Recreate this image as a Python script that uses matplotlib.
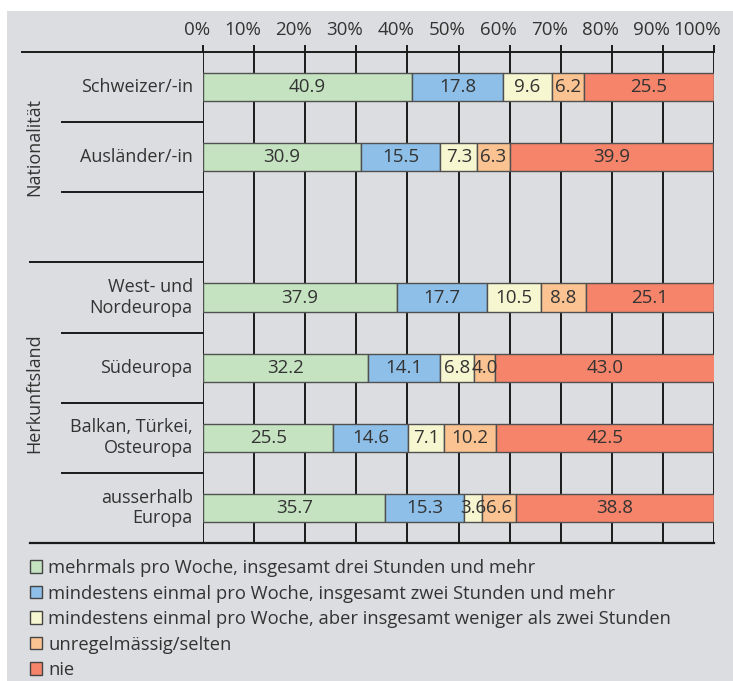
import matplotlib.pyplot as plt
import matplotlib.transforms as mtransforms
from matplotlib.patches import Patch, Rectangle

plt.rcParams["font.family"] = ["Open Sans", "DejaVu Sans"]
plt.rcParams["text.color"] = "#333333"

# Data
rows = ["Schweizer/-in", "Ausländer/-in", "", "West- und\nNordeuropa", "Südeuropa",
        "Balkan, Türkei,\nOsteuropa", "ausserhalb\nEuropa"]
mehrmals = [40.9, 30.9, None, 37.9, 32.2, 25.5, 35.7]
zwei_std = [17.8, 15.5, None, 17.7, 14.1, 14.6, 15.3]
weniger = [9.6, 7.3, None, 10.5, 6.8, 7.1, 3.6]
selten = [6.2, 6.3, None, 8.8, 4.0, 10.2, 6.6]
nie = [25.5, 39.9, None, 25.1, 43.0, 42.5, 38.8]
series = [mehrmals, zwei_std, weniger, selten, nie]
series_names = ["mehrmals pro Woche, insgesamt drei Stunden und mehr",
                "mindestens einmal pro Woche, insgesamt zwei Stunden und mehr",
                "mindestens einmal pro Woche, aber insgesamt weniger als zwei Stunden",
                "unregelmässig/selten",
                "nie"]
colors = ["#c5e3c1", "#8dbfe8", "#f6f6d0", "#fbc391", "#f5846a"]
groups = ["Nationalität", "Herkunftsland"]
ticks = list(range(0, 101, 10))

W, H = 733, 681
fig = plt.figure(figsize=(W / 100, H / 100), dpi=100)
fig.patches.append(Rectangle((7 / W, 0), 1, 1 - 11 / H, transform=fig.transFigure,
                             facecolor="#dcdde0", edgecolor="none", zorder=-5))

ax = fig.add_axes([203 / W, 1 - 543 / H, 511 / W, 491 / H])
ax.set_facecolor("none")
ax.set_xlim(0, 100)
ax.set_ylim(6.5, -0.5)

# vertical grid lines
for t in ticks:
    ax.axvline(t, color="#1a1a1a", lw=1.4, zorder=1)

# stacked bars
for i, name in enumerate(rows):
    if mehrmals[i] is None:
        continue
    left = 0
    for s, c in zip(series, colors):
        v = s[i]
        ax.barh(i, v, left=left, height=0.4, color=c, edgecolor="#505050", lw=1, zorder=2)
        ax.text(left + v / 2, i, f"{v:.1f}", ha="center", va="center", fontsize=13.5,
                color="#333333", zorder=3)
        left += v

# top axis: ticks, labels set right-aligned just past each tick
ax.set_xticks(ticks)
ax.tick_params(axis="x", top=True, labeltop=False, bottom=False, labelbottom=False,
               length=5, width=1.4, color="#1a1a1a")
ax.set_yticks([])
for sp in ax.spines.values():
    sp.set_visible(False)

xtr = ax.get_xaxis_transform()
off = mtransforms.ScaledTranslation(7 / 100, 17 / 100, fig.dpi_scale_trans)
for t in ticks:
    ax.text(t, 1, f"{t}%", transform=xtr + off, ha="right", va="baseline",
            fontsize=13.5, color="#333333", clip_on=False)

ytr = ax.get_yaxis_transform()
# horizontal lines: top, bottom, separators
ax.plot([-0.354, 1], [-0.5, -0.5], transform=ytr, color="#1a1a1a", lw=1.4, clip_on=False)
ax.plot([-0.339, 1], [6.5, 6.5], transform=ytr, color="#1a1a1a", lw=1.6, clip_on=False)
ax.plot([-0.339, 0], [2.5, 2.5], transform=ytr, color="#1a1a1a", lw=1.4, clip_on=False)
for y in [0.5, 1.5, 3.5, 4.5, 5.5]:
    ax.plot([-0.276, 0], [y, y], transform=ytr, color="#1a1a1a", lw=1.4, clip_on=False)

# row labels
for i, name in enumerate(rows):
    ax.text(-0.02, i, name, transform=ytr, ha="right", va="center", fontsize=13,
            linespacing=1.2)

# group labels
ax.text(-0.331, 0.85, groups[0], transform=ytr, rotation=90, ha="center", va="center",
        fontsize=13)
ax.text(-0.331, 4.37, groups[1], transform=ytr, rotation=90, ha="center", va="center",
        fontsize=13)

# legend
handles = [Patch(facecolor=c, edgecolor="#444444", lw=1) for c in colors]
fig.legend(handles, series_names, loc="upper left", bbox_to_anchor=(30 / W, 1 - 559 / H),
           frameon=False, fontsize=13.2, handlelength=0.66, handleheight=0.66,
           handletextpad=0.33, labelspacing=0.41, borderpad=0, borderaxespad=0)

fig.savefig("out.png", dpi=100)
